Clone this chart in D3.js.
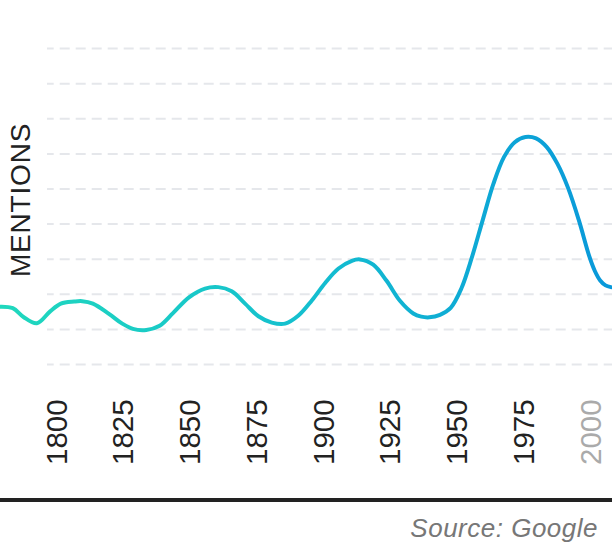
<!DOCTYPE html>
<html>
<head>
<meta charset="utf-8">
<script src="https://cdn.jsdelivr.net/npm/d3@7"></script>
<style>
  html, body { margin: 0; padding: 0; background: #fff; }
  svg { display: block; }
</style>
</head>
<body>
<svg id="chart" width="612" height="544"></svg>
<script>
// ---- data ----
const years = [1779, 1784, 1788, 1793, 1798, 1802, 1807, 1810, 1814, 1820, 1825, 1829, 1834, 1839, 1844, 1850, 1856, 1861, 1866, 1871, 1876, 1881, 1886, 1891, 1896, 1901, 1906, 1911, 1914, 1919, 1924, 1929, 1934, 1937, 1940, 1944, 1948, 1952, 1956, 1960, 1964, 1968, 1972, 1976, 1980, 1984, 1988, 1992, 1996, 2000, 2002, 2004, 2006, 2008];
const mentions = [16.3, 15.9, 13.4, 11.6, 15.0, 17.2, 17.8, 17.9, 17.2, 14.3, 11.5, 10.0, 9.7, 10.9, 14.5, 19.0, 21.5, 21.9, 20.7, 17.2, 13.6, 11.8, 11.5, 13.8, 18.1, 23.1, 27.2, 29.4, 29.8, 28.3, 23.7, 18.0, 14.4, 13.5, 13.3, 14.0, 16.0, 21.5, 30.5, 41.0, 51.3, 59.0, 63.2, 64.7, 64.3, 61.8, 57.0, 50.1, 41.0, 30.5, 26.5, 23.8, 22.4, 21.9];
const xTicks = [1800, 1825, 1850, 1875, 1900, 1925, 1950, 1975, 2000];
const fadedTicks = [2000];
const yTicks = [0, 10, 20, 30, 40, 50, 60, 70, 80, 90];
const yLabel = "MENTIONS";
const sourceText = "Source: Google";

const data = years.map((yr, i) => ({ year: yr, value: mentions[i] }));

const W = 612, H = 544;
const svg = d3.select("#chart");
const FONT = "'Liberation Sans', Arial, Helvetica, sans-serif";

const x = d3.scaleLinear().domain([1800, 2000]).range([55.5, 589.5]);
const y = d3.scaleLinear().domain([0, 90]).range([364, 48.1]);

// gradient for the line
const defs = svg.append("defs");
const grad = defs.append("linearGradient")
  .attr("id", "lineGrad")
  .attr("gradientUnits", "userSpaceOnUse")
  .attr("x1", 0).attr("y1", 0).attr("x2", W).attr("y2", 0);
grad.append("stop").attr("offset", "0%").attr("stop-color", "#20d8bd");
grad.append("stop").attr("offset", "50%").attr("stop-color", "#14bfcf");
grad.append("stop").attr("offset", "100%").attr("stop-color", "#0998da");

// gridlines
const gridLeft = 47;
const grid = svg.append("g")
  .attr("transform", `translate(${gridLeft},0)`)
  .call(d3.axisLeft(y).tickValues(yTicks).tickSize(-(W - gridLeft)).tickFormat(""));
grid.select(".domain").remove();
grid.selectAll(".tick line")
  .attr("stroke", "#e5e7eb")
  .attr("stroke-width", 2)
  .attr("stroke-dasharray", "10,6")
  .attr("stroke-dashoffset", 3.3);

// line
const line = d3.line()
  .x(d => x(d.year))
  .y(d => y(d.value))
  .curve(d3.curveCatmullRom.alpha(0.5));

svg.append("path")
  .datum(data)
  .attr("d", line)
  .attr("fill", "none")
  .attr("stroke", "url(#lineGrad)")
  .attr("stroke-width", 4)
  .attr("stroke-linecap", "round")
  .attr("stroke-linejoin", "round");

// x axis labels (rotated)
const axisY = 465;
const xa = svg.append("g")
  .attr("transform", `translate(0,${axisY})`)
  .call(d3.axisBottom(x).tickValues(xTicks).tickSize(0).tickFormat(d3.format("d")));
xa.select(".domain").remove();
xa.selectAll(".tick line").remove();
xa.selectAll(".tick text")
  .attr("transform", "rotate(-90)")
  .attr("x", 0)
  .attr("y", 10.5)
  .attr("dy", 0)
  .attr("text-anchor", "start")
  .style("font-family", FONT)
  .style("font-size", "29.5px")
  .attr("fill", d => fadedTicks.includes(d) ? "#aaaaaa" : "#222222");

// y label
svg.append("text")
  .attr("transform", "translate(30,277) rotate(-90)")
  .attr("text-anchor", "start")
  .style("font-family", FONT)
  .style("font-size", "28px")
  .style("letter-spacing", "0.8px")
  .attr("fill", "#222")
  .text(yLabel);

// bottom rule
svg.append("rect")
  .attr("x", 0).attr("y", 498)
  .attr("width", W).attr("height", 4)
  .attr("fill", "#222");

// source
svg.append("text")
  .attr("x", 598).attr("y", 537)
  .attr("text-anchor", "end")
  .style("font-family", FONT)
  .style("font-size", "26px")
  .style("font-style", "italic")
  .style("letter-spacing", "0.5px")
  .attr("fill", "#777")
  .text(sourceText);
</script>
</body>
</html>
